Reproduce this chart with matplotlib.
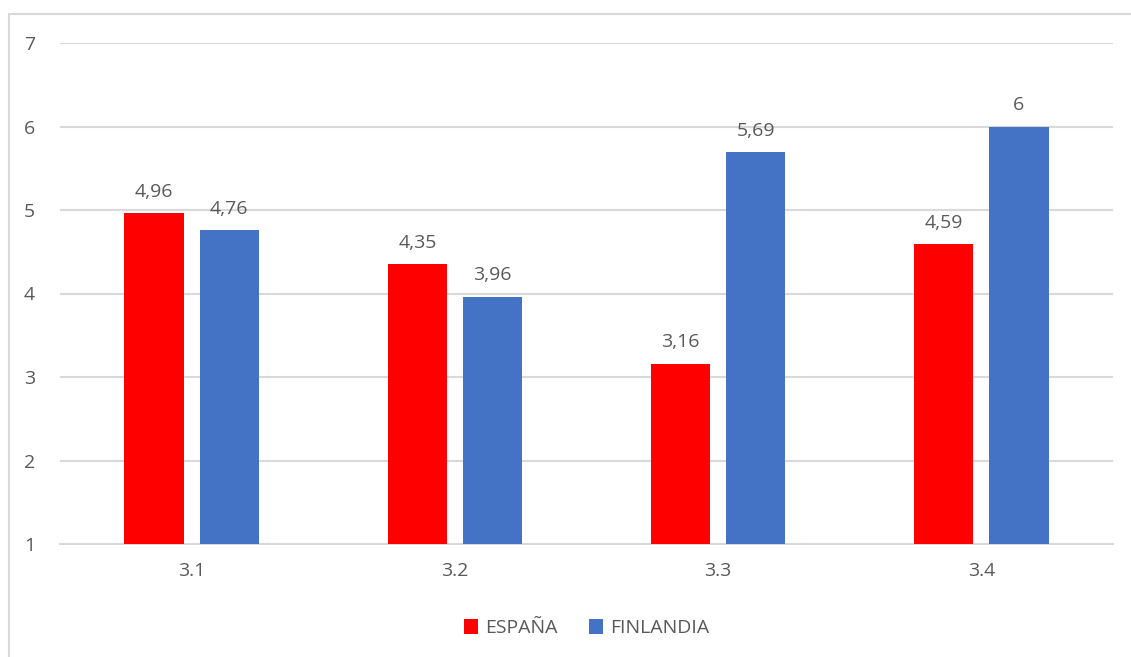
import numpy as np
import matplotlib.pyplot as plt
from matplotlib.patches import Rectangle

categories = ["3.1", "3.2", "3.3", "3.4"]
espana = [4.96, 4.35, 3.16, 4.59]
finlandia = [4.76, 3.96, 5.69, 6]
series_names = ["ESPAÑA", "FINLANDIA"]

plt.rcParams["font.family"] = ["Open Sans", "DejaVu Sans"]
txt = "#595959"
grid = "#d9d9d9"

fig = plt.figure(figsize=(11.31, 6.57), dpi=100)
ax = fig.add_axes([60 / 1131, 113 / 657, 1053 / 1131, 501 / 657])

# chart frame (cut off at right and bottom like the original)
fig.patches.append(Rectangle((9 / 1131, -0.1), 1.2, (657 - 14) / 657 + 0.1,
                             transform=fig.transFigure, fill=False,
                             edgecolor=grid, lw=1.5))

x = np.arange(len(categories))
w = 0.225
off = 0.1425
b1 = ax.bar(x - off, np.array(espana) - 1, w, bottom=1, color="#ff0000",
            label=series_names[0], zorder=3)
b2 = ax.bar(x + off, np.array(finlandia) - 1, w, bottom=1, color="#4472c4",
            label=series_names[1], zorder=3)

for bars, vals in ((b1, espana), (b2, finlandia)):
    for r, v in zip(bars, vals):
        lab = f"{v:g}".replace(".", ",")
        ax.annotate(lab, (r.get_x() + r.get_width() / 2, v),
                    xytext=(0, 9), textcoords="offset points",
                    ha="center", va="bottom", fontsize=14, color=txt)

ax.set_xlim(-0.5, 3.5)
ax.set_ylim(1, 7)
ax.set_yticks(range(1, 8))
ax.set_xticks(x)
ax.set_xticklabels(categories)
ax.yaxis.grid(True, color=grid, lw=1.5, zorder=0)
ax.set_axisbelow(True)
for s in ["top", "right", "left"]:
    ax.spines[s].set_visible(False)
ax.spines["bottom"].set_color(grid)
ax.spines["bottom"].set_linewidth(1.5)
ax.tick_params(length=0, labelsize=14, colors=txt)
ax.tick_params(axis="y", pad=18)
ax.tick_params(axis="x", pad=13)

ax.legend(loc="center", bbox_to_anchor=(0.5, -0.168), ncol=2, frameon=False,
          fontsize=14, labelcolor=txt, handlelength=0.75, handleheight=0.75,
          handletextpad=0.35, columnspacing=1.6)

fig.savefig("out.png", dpi=100)
